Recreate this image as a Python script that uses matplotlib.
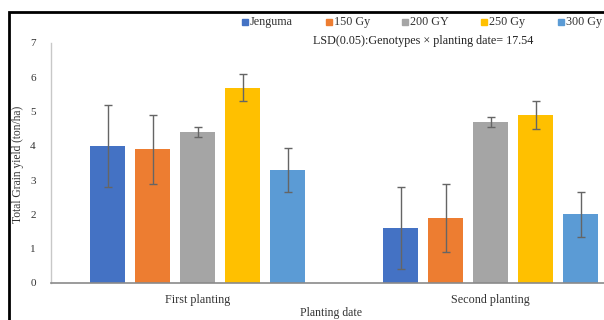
import matplotlib
matplotlib.use("Agg")
import matplotlib.pyplot as plt
import numpy as np
from matplotlib.patches import Rectangle

categories = ["First planting", "Second planting"]
series = ["Jenguma", "150 Gy", "200 GY", "250 Gy", "300 Gy"]
values = {
    "Jenguma": [4.0, 1.6],
    "150 Gy": [3.9, 1.9],
    "200 GY": [4.4, 4.7],
    "250 Gy": [5.7, 4.9],
    "300 Gy": [3.3, 2.0],
}
errors = {
    "Jenguma": [1.2, 1.2],
    "150 Gy": [1.0, 1.0],
    "200 GY": [0.15, 0.15],
    "250 Gy": [0.4, 0.4],
    "300 Gy": [0.65, 0.65],
}
colors = ["#4472C4", "#ED7D31", "#A5A5A5", "#FFC000", "#5B9BD5"]

plt.rcParams['font.family'] = ['Liberation Serif', 'DejaVu Serif']

W, H = 604, 320
fig = plt.figure(figsize=(W / 100, H / 100), dpi=100)

def fx(px):
    return px / W

def fy(py):
    return 1 - py / H

ax_left, ax_right = 51, 637
ax_top, ax_bottom = 43, 283
ax = fig.add_axes([fx(ax_left), fy(ax_bottom), fx(ax_right - ax_left), (ax_bottom - ax_top) / H])

x = np.arange(len(categories))
step = 45 / 293
width = 35 / 293
for i, s in enumerate(series):
    pos = x + (i - 2) * step
    ax.bar(pos, values[s], width=width, color=colors[i], label=s,
           yerr=errors[s], error_kw=dict(ecolor="#656565", elinewidth=1.0, capsize=3.2, capthick=1.0),
           zorder=2)

ax.set_xlim(-0.5, 1.5)
ax.set_ylim(0, 7)
ax.set_yticks(range(0, 8))
ax.set_xticks(x)
ax.set_xticklabels(categories, fontsize=8.7)
ax.tick_params(axis='both', length=0, colors="#333333")
ax.tick_params(axis='y', pad=11, labelsize=8)
ax.tick_params(axis='x', pad=8)
for sp in ["top", "right"]:
    ax.spines[sp].set_visible(False)
ax.spines["left"].set_color("#c8c8c8")
ax.spines["left"].set_linewidth(1.0)
ax.spines["bottom"].set_color("#8a8a8a")
ax.spines["bottom"].set_linewidth(1.2)

fig.text(fx(18), fy(164), "Total Grain yield (ton/ha)", rotation=90, ha="center", va="center",
         fontsize=8.3, color="#333333")

fig.text(fx(331), fy(313), "Planting date", ha="center", va="center", fontsize=8.5, color="#333333")

# legend
leg_x = [245, 329, 405, 484, 561]
for i, s in enumerate(series):
    fig.patches.append(Rectangle((fx(leg_x[i] - 3), fy(22 + 3)), fx(6), 6 / H,
                                 transform=fig.transFigure, color=colors[i]))
    fig.text(fx(leg_x[i] + 5), fy(22), s, ha="left", va="center", fontsize=8.7, color="#333333")

fig.text(fx(313), fy(41), "LSD(0.05):Genotypes \u00d7 planting date= 17.54",
         ha="left", va="center", fontsize=8.7, color="#222222")

# outer frame (chart area border)
fig.patches.append(Rectangle((fx(9), -0.1), 1.2, fy(12) + 0.1, transform=fig.transFigure,
                             fill=False, edgecolor="black", linewidth=2))

fig.savefig("out.png", dpi=100)
